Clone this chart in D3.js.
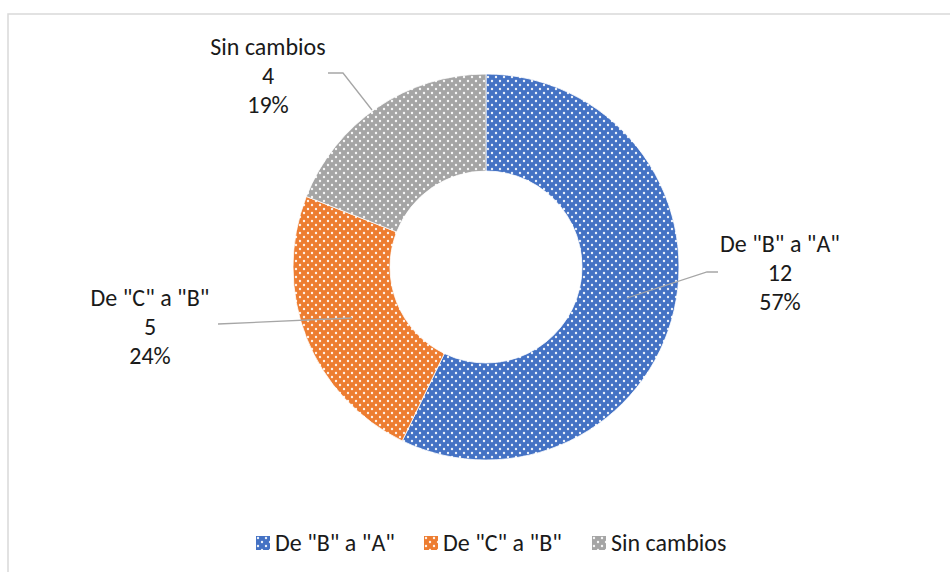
<!DOCTYPE html>
<html>
<head>
<meta charset="utf-8">
<script src="https://cdn.jsdelivr.net/npm/d3@7"></script>
<style>
  html, body { margin: 0; padding: 0; background: #fff; }
  svg text { font-family: Carlito, Lato, "Noto Sans", sans-serif; fill: #1a1a1a; }
</style>
</head>
<body>
<svg id="chart" width="950" height="572"></svg>
<script>
// Chart data
const categories = ['De "B" a "A"', 'De "C" a "B"', 'Sin cambios'];
const counts = [12, 5, 4];
const percentLabels = ['57%', '24%', '19%'];
const colors = ['#4472C4', '#ED7D31', '#A5A5A5'];

const svg = d3.select('#chart');
const W = 950, H = 572;

// Chart area frame
svg.append('path')
  .attr('d', `M8,${H} L8,14 L${W},14`)
  .attr('fill', 'none')
  .attr('stroke', '#d9d9d9')
  .attr('stroke-width', 1.5);

// Dotted fill patterns
const defs = svg.append('defs');
colors.forEach((c, i) => {
  const p = defs.append('pattern')
    .attr('id', 'pat' + i)
    .attr('patternUnits', 'userSpaceOnUse')
    .attr('width', 8).attr('height', 8);
  p.append('rect').attr('width', 8).attr('height', 8).attr('fill', c);
  [[2, 2], [6, 6]].forEach(([x, y]) => {
    p.append('circle').attr('cx', x).attr('cy', y).attr('r', 1.2)
      .attr('fill', '#fff').attr('opacity', 0.9);
  });
});

const cx = 486, cy = 267, rOuter = 193, rInner = 96;

const pie = d3.pie().sort(null).value(d => d)(counts);
const arc = d3.arc().innerRadius(rInner).outerRadius(rOuter);

const g = svg.append('g').attr('transform', `translate(${cx},${cy})`);
g.selectAll('path.slice')
  .data(pie)
  .enter().append('path')
  .attr('class', 'slice')
  .attr('d', arc)
  .attr('fill', (d, i) => `url(#pat${i})`)
  .attr('stroke', '#fff')
  .attr('stroke-width', 0.8);

// Data labels with leader lines (label centre, leader start, elbow, point inside slice)
const labelPos = [
  { x: 780, y: 244, line: [[718, 272], [707, 272], [627, 298]] },
  { x: 150, y: 298, line: [[218, 324], [352, 318]] },
  { x: 268, y: 47, line: [[328, 73], [343, 73], [372, 110]] }
];

const lineGen = d3.line();
labelPos.forEach((lp, i) => {
  svg.append('path')
    .attr('d', lineGen(lp.line))
    .attr('fill', 'none')
    .attr('stroke', '#a6a6a6')
    .attr('stroke-width', 1.3);
  const t = svg.append('text')
    .attr('x', lp.x).attr('y', lp.y)
    .attr('text-anchor', 'middle')
    .attr('font-size', 24);
  [categories[i], String(counts[i]), percentLabels[i]].forEach((s, k) => {
    t.append('tspan').attr('x', lp.x).attr('dy', k === 0 ? '0.35em' : 29).text(s);
  });
});

// Legend
const legend = svg.append('g');
const legendX = [256, 424, 592];
categories.forEach((c, i) => {
  legend.append('rect')
    .attr('x', legendX[i]).attr('y', 536)
    .attr('width', 14).attr('height', 14)
    .attr('fill', `url(#pat${i})`);
  legend.append('text')
    .attr('x', legendX[i] + 19).attr('y', 543)
    .attr('dy', '0.35em')
    .attr('font-size', 24)
    .text(c);
});
</script>
</body>
</html>
